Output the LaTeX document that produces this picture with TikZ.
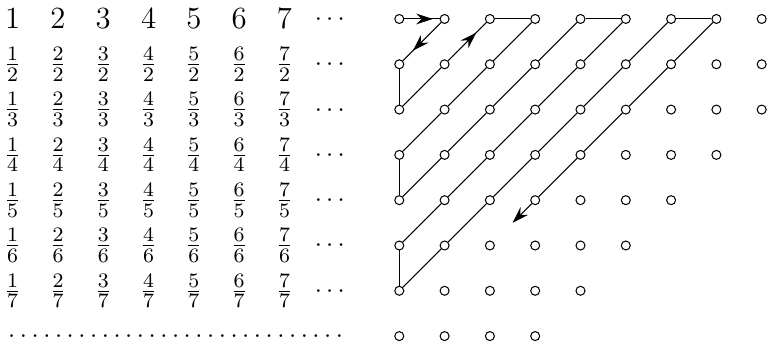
\documentclass[tikz,border=0pt]{standalone}
\usetikzlibrary{arrows.meta,calc}

\begin{document}
\begin{tikzpicture}[line width=0.4pt, x=6.2mm, y=6.2mm,
    entry/.style={inner sep=0pt},
    spot/.style={circle, draw, inner sep=0pt, minimum size=3.5pt},
    head/.style={-{Stealth[length=6.5pt,width=4.2pt,inset=2.2pt]}}]
  \useasboundingbox (-0.28,0.419) rectangle (16.651,-7.13);
  % Left: the table of quotients.
  \foreach \n in {1,...,7} {
    \node[entry] (q\n-1) at (\n-1,0) {\large$\n$};
    \foreach \d in {2,...,7}
      \node[entry, font=\fontsize{11}{13}\selectfont] (q\n-\d) at (\n-1,1-\d) {$\frac{\n}{\d}$};
  }
  \foreach \d in {1,...,7}
    \node[entry, anchor=base, yshift=-2.5pt] (more\d) at (7,1-\d) {$\cdots$};
  \foreach \i in {0,...,28}
    \node[entry, anchor=base, yshift=-2.5pt] (dot\i) at (\i*0.2583-0.02,-7) {$\cdot$};
  % Right: the lattice of points.
  \foreach \rr in {0,...,7} {
    \pgfmathtruncatemacro\last{min(8,10-\rr)}
    \foreach \cc in {0,...,\last}
      \node[spot] (p\cc-\rr) at (8.534+\cc,-\rr) {};
  }
  % The zigzag.
  \foreach \a/\b in {0/1,2/3,4/5,6/7}
    \draw (p\a-0) -- (p\b-0);
  \foreach \a/\b in {1/2,3/4,5/6}
    \draw (p0-\a) -- (p0-\b);
  \foreach \d in {1,...,6}
    \foreach \cc in {1,...,\d} {
      \pgfmathtruncatemacro\rr{\d-\cc}
      \pgfmathtruncatemacro\nc{\cc-1}
      \pgfmathtruncatemacro\nr{\d-\cc+1}
      \draw (p\cc-\rr) -- (p\nc-\nr);
    }
  \draw (p7-0) -- (p6-1) -- (p5-2) -- (p4-3) -- (p3-4);
  \coordinate (stop) at ($(p3-4)!0.5!(p2-5)$);
  \draw[head] (p3-4) -- (stop);
  % Direction marks.
  \draw[head] ($(p0-0)!0.5!(p1-0)$) -- ($(p0-0)!0.74!(p1-0)$);
  \draw[head] ($(p1-0)!0.5!(p0-1)$) -- ($(p1-0)!0.7!(p0-1)$);
  \draw[head] ($(p1-1)!0.5!(p2-0)$) -- ($(p1-1)!0.7!(p2-0)$);
\end{tikzpicture}
\end{document}
